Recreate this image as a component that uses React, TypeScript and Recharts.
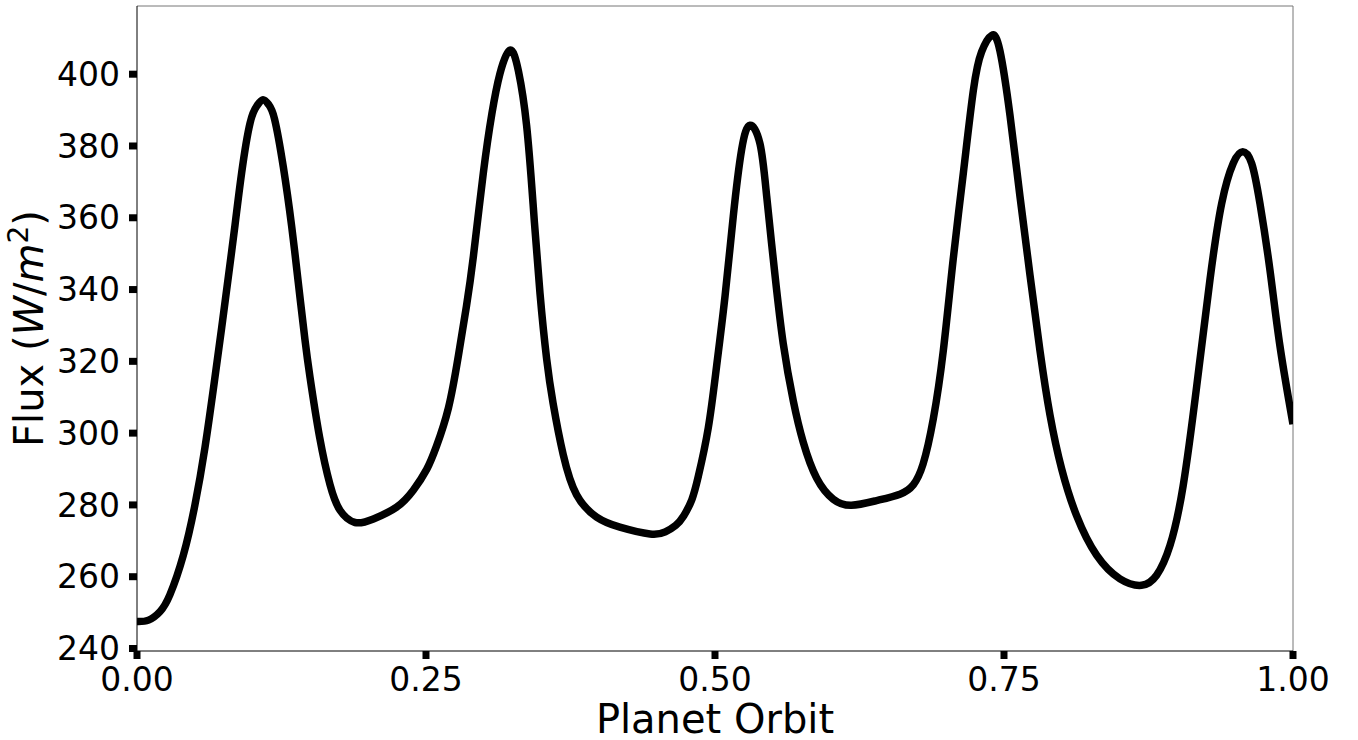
import React from 'react';
import { LineChart, Line, XAxis, YAxis, ReferenceLine, Label } from 'recharts';

// Orbit phase (x) and flux (y)
const orbitPhase = [
  0.0, 0.01, 0.02, 0.0285, 0.04, 0.05, 0.0588, 0.067, 0.0733, 0.079, 0.0848, 0.0905, 0.0978, 0.104, 0.109,
  0.114, 0.119, 0.1265, 0.1338, 0.1395, 0.1453, 0.1497, 0.158, 0.167, 0.1756, 0.1886, 0.2045, 0.2246, 0.239,
  0.2506, 0.259, 0.2694, 0.278, 0.285, 0.291, 0.2996, 0.307, 0.314, 0.3227, 0.33, 0.337, 0.3428, 0.3486,
  0.3544, 0.36, 0.3687, 0.3803, 0.3976, 0.4177, 0.4438, 0.457, 0.466, 0.473, 0.48, 0.4856, 0.4942, 0.5014,
  0.5087, 0.5158, 0.523, 0.5303, 0.539, 0.5447, 0.5519, 0.559, 0.5677, 0.5763, 0.5879, 0.6023, 0.618, 0.6397,
  0.66, 0.6715, 0.68, 0.6888, 0.6975, 0.706, 0.7148, 0.7235, 0.7306, 0.7393, 0.7465, 0.7552, 0.7638, 0.7725,
  0.7811, 0.7898, 0.7999, 0.8128, 0.8301, 0.8503, 0.869, 0.882, 0.8936, 0.905, 0.9167, 0.9282, 0.9383,
  0.9483, 0.9565, 0.9642, 0.9714, 0.98, 0.9887, 1.0,
];
const fluxValues = [
  247.5, 247.9, 250.3, 255.0, 265.9, 279.8, 296.0, 314.5, 329.5, 343.5, 358.0, 372.5, 386.4, 391.3, 392.9,
  391.5, 387.5, 374.3, 357.6, 342.0, 326.0, 315.5, 298.8, 285.6, 278.5, 275.1, 276.1, 279.4, 284.1,
  289.9, 296.3, 307.0, 321.5, 335.4, 349.3, 372.5, 389.0, 400.2, 406.7, 400.8, 385.8, 363.1, 339.0,
  320.6, 308.2, 294.0, 282.8, 276.6, 273.8, 271.9, 272.5, 274.3, 277.0, 281.5, 288.0, 301.5, 318.7,
  338.2, 360.4, 378.9, 385.8, 380.5, 366.0, 344.0, 325.0, 309.0, 297.5, 287.5, 281.6, 279.9, 281.2,
  283.0, 285.6, 291.4, 303.9, 323.0, 348.3, 372.4, 395.5, 406.2, 410.8, 406.5, 388.5, 366.0, 344.0,
  323.0, 305.0, 290.0, 277.0, 266.0, 259.4, 257.6, 260.4, 268.7, 285.4, 313.1, 342.8, 364.0,
  375.2, 378.4, 375.2, 364.0, 345.6, 324.3, 302.5,
];

const xTicks = [0, 0.25, 0.5, 0.75, 1.0];
const yTicks = [240, 260, 280, 300, 320, 340, 360, 380, 400];
const xDomain = [0, 1];
const yDomain = [239.3, 419.0];
const xLabelText = 'Planet Orbit';

const data = orbitPhase.map((t, i) => ({ t, flux: fluxValues[i] }));

const FONT = 'DejaVu Sans';
const W = 1358;
const H = 740;
const PLOT_LEFT = 137;
const PLOT_RIGHT = 1293;
const PLOT_TOP = 6;
const PLOT_BOTTOM = 651;

const renderXLabel = () => (
  <text
    x={(PLOT_LEFT + PLOT_RIGHT) / 2}
    y={733}
    textAnchor="middle"
    fontFamily={FONT}
    fontSize={40}
    fill="#000"
  >
    {xLabelText}
  </text>
);

const renderYLabel = () => {
  const cx = 43;
  const cy = (PLOT_TOP + PLOT_BOTTOM) / 2;
  return (
    <text
      x={cx}
      y={cy}
      transform={`rotate(-90, ${cx}, ${cy})`}
      textAnchor="middle"
      fontFamily={FONT}
      fontSize={40}
      fill="#000"
    >
      <tspan>Flux (</tspan>
      <tspan fontStyle="italic">W</tspan>
      <tspan>/</tspan>
      <tspan fontStyle="italic">m</tspan>
      <tspan fontSize={28} dy={-15}>2</tspan>
      <tspan dy={15}>)</tspan>
    </text>
  );
};

export default function App() {
  return (
    <div style={{ position: 'absolute', left: 0, top: 0, width: W, height: H, background: '#fff' }}>
      <LineChart
        width={W}
        height={H}
        data={data}
        margin={{ top: PLOT_TOP, right: W - PLOT_RIGHT, bottom: 0, left: 0 }}
      >
        <XAxis
          dataKey="t"
          type="number"
          domain={xDomain}
          ticks={xTicks}
          interval={0}
          allowDataOverflow
          height={H - PLOT_BOTTOM}
          tickFormatter={(v: number) => v.toFixed(2)}
          tick={{ fill: '#000', fontSize: 33, fontFamily: FONT }}
          tickSize={8}
          tickMargin={9}
          tickLine={{ stroke: '#000', strokeWidth: 7 }}
          axisLine={{ stroke: '#000', strokeWidth: 1 }}
          label={<Label content={renderXLabel} />}
        />
        <YAxis
          type="number"
          domain={yDomain}
          ticks={yTicks}
          interval={0}
          allowDataOverflow
          width={PLOT_LEFT}
          tick={{ fill: '#000', fontSize: 33, fontFamily: FONT }}
          tickSize={8}
          tickMargin={9}
          tickLine={{ stroke: '#000', strokeWidth: 7 }}
          axisLine={{ stroke: '#000', strokeWidth: 1 }}
          label={<Label content={renderYLabel} />}
        />
        <ReferenceLine y={yDomain[1]} stroke="#777" strokeWidth={1} ifOverflow="visible" />
        <ReferenceLine x={xDomain[1]} stroke="#777" strokeWidth={1} ifOverflow="visible" />
        <Line
          type="natural"
          dataKey="flux"
          stroke="#000"
          strokeWidth={7.5}
          dot={false}
          activeDot={false}
          isAnimationActive={false}
        />
      </LineChart>
    </div>
  );
}
